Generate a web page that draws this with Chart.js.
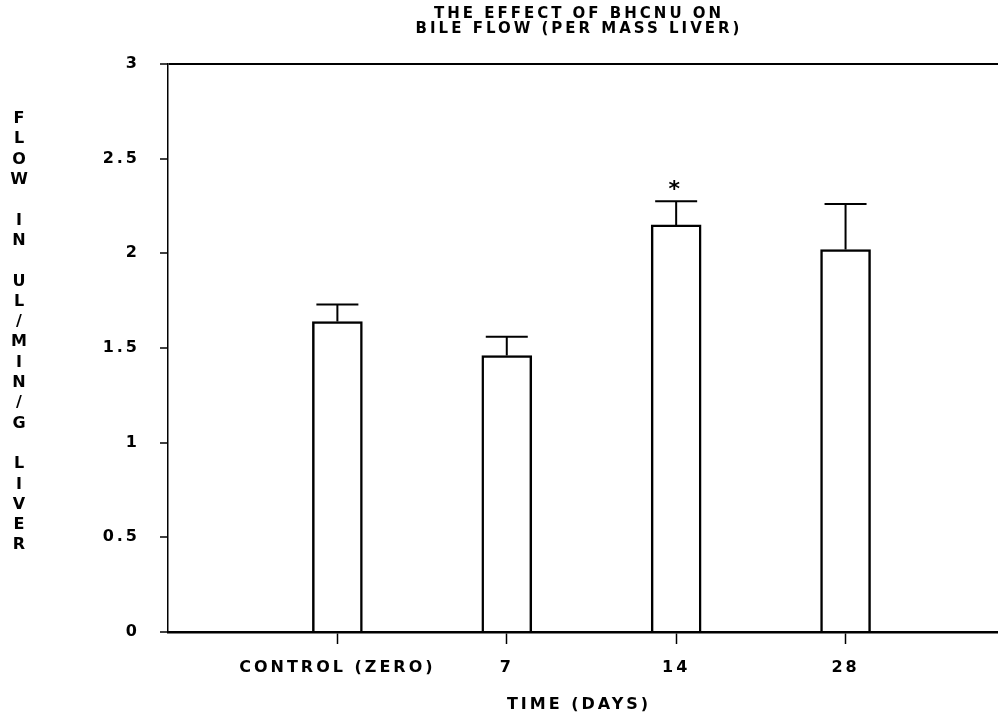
<!DOCTYPE html>
<html>
<head>
<meta charset="utf-8">
<script src="https://cdn.jsdelivr.net/npm/chart.js@4.4.1/dist/chart.umd.min.js"></script>
<style>
  html, body { margin: 0; padding: 0; background: #ffffff; }
  #wrap { width: 998px; height: 715px; }
</style>
</head>
<body>
<div id="wrap"><canvas id="bileChart" width="998" height="715"></canvas></div>
<script>
// data
const categories = ['CONTROL (ZERO)', '7', '14', '28'];
const positions = [1, 2, 3, 4];
const flowMeans = [1.64, 1.46, 2.15, 2.02];
const flowErrors = [0.09, 0.10, 0.125, 0.24];
const markers = ['', '', '*', ''];
const yTicks = [0, 0.5, 1, 1.5, 2, 2.5, 3];
const yTickLabels = ['0', '0.5', '1', '1.5', '2', '2.5', '3'];

const titleLines = ['THE EFFECT OF BHCNU ON', 'BILE FLOW (PER MASS LIVER)'];
const yTitle = 'FLOW IN UL/MIN/G LIVER';
const xTitle = 'TIME (DAYS)';

const FONT = '"DejaVu Sans", sans-serif';
const SPACING = '3px';

const spacingPlugin = {
    id: 'spacing',
    beforeLayout(chart) { chart.ctx.letterSpacing = SPACING; },
    beforeDraw(chart) { chart.ctx.letterSpacing = SPACING; }
};

const decorPlugin = {
    id: 'decor',
    afterDatasetsDraw(chart) {
        const ctx = chart.ctx;
        const xs = chart.scales.x;
        const ys = chart.scales.y;
        ctx.save();
        ctx.strokeStyle = '#000';
        ctx.fillStyle = '#000';
        ctx.lineWidth = 2;
        positions.forEach((p, i) => {
            const x = xs.getPixelForValue(p);
            const yBar = ys.getPixelForValue(flowMeans[i]);
            const yCap = ys.getPixelForValue(flowMeans[i] + flowErrors[i]);
            ctx.beginPath();
            ctx.moveTo(x, yBar);
            ctx.lineTo(x, yCap);
            ctx.moveTo(x - 21, yCap);
            ctx.lineTo(x + 21, yCap);
            ctx.stroke();
            if (markers[i]) {
                ctx.font = 'bold 22px ' + FONT;
                ctx.letterSpacing = '0px';
                ctx.textAlign = 'center';
                ctx.textBaseline = 'middle';
                ctx.fillText(markers[i], x - 2, yCap - 11);
            }
        });
        ctx.restore();
    },
    afterDraw(chart) {
        const ctx = chart.ctx;
        const area = chart.chartArea;
        const cx = (area.left + area.right) / 2 - 4;
        ctx.save();
        ctx.fillStyle = '#000';
        ctx.letterSpacing = SPACING;
        ctx.textAlign = 'center';
        ctx.textBaseline = 'middle';
        ctx.font = 'bold 15px ' + FONT;
        ctx.fillText(titleLines[0], cx, 14);
        ctx.fillText(titleLines[1], cx, 29);
        ctx.font = 'bold 16px ' + FONT;
        ctx.fillText(xTitle, cx, 705);
        // stacked y-axis title
        ctx.letterSpacing = '0px';
        ctx.font = 'bold 16px ' + FONT;
        yTitle.split('').forEach((ch, i) => {
            ctx.fillText(ch, 19, 119 + i * 20.3);
        });
        ctx.restore();
    }
};

const ctx = document.getElementById('bileChart').getContext('2d');

new Chart(ctx, {
    type: 'bar',
    data: {
        datasets: [{
            data: positions.map((p, i) => ({ x: p, y: flowMeans[i] })),
            backgroundColor: '#ffffff',
            borderColor: '#000000',
            borderWidth: 2.5,
            borderSkipped: 'bottom',
            barThickness: 50
        }]
    },
    options: {
        responsive: false,
        animation: false,
        layout: { padding: { top: 64, left: 0, right: 0, bottom: 0 } },
        plugins: {
            legend: { display: false },
            tooltip: { enabled: false },
            title: { display: false }
        },
        scales: {
            x: {
                type: 'linear',
                min: 0,
                max: 4.9,
                offset: false,
                afterFit(scale) { scale.height = 83; },
                afterBuildTicks(scale) {
                    scale.ticks = positions.map(v => ({ value: v }));
                },
                ticks: {
                    color: '#000',
                    font: { family: FONT, size: 16, weight: 'bold' },
                    padding: 14,
                    maxRotation: 0,
                    autoSkip: false,
                    callback: (v) => categories[positions.indexOf(v)] || ''
                },
                grid: {
                    offset: false,
                    drawOnChartArea: false,
                    tickLength: 12,
                    tickColor: '#000',
                    tickWidth: 1.5
                },
                border: { color: '#000', width: 2.5 }
            },
            y: {
                min: 0,
                max: 3,
                afterFit(scale) { scale.width = 168; },
                afterBuildTicks(scale) {
                    scale.ticks = yTicks.map(v => ({ value: v }));
                },
                ticks: {
                    color: '#000',
                    font: { family: FONT, size: 16, weight: 'bold' },
                    padding: 20,
                    callback: (v) => yTickLabels[yTicks.indexOf(v)]
                },
                grid: {
                    color: (c) => c.tick && c.tick.value === 3 ? '#000' : 'rgba(0,0,0,0)',
                    lineWidth: 2,
                    tickLength: 8,
                    tickColor: '#000',
                    tickWidth: 1.5
                },
                border: { color: '#000', width: 1.5 }
            }
        }
    },
    plugins: [spacingPlugin, decorPlugin]
});
</script>
</body>
</html>
